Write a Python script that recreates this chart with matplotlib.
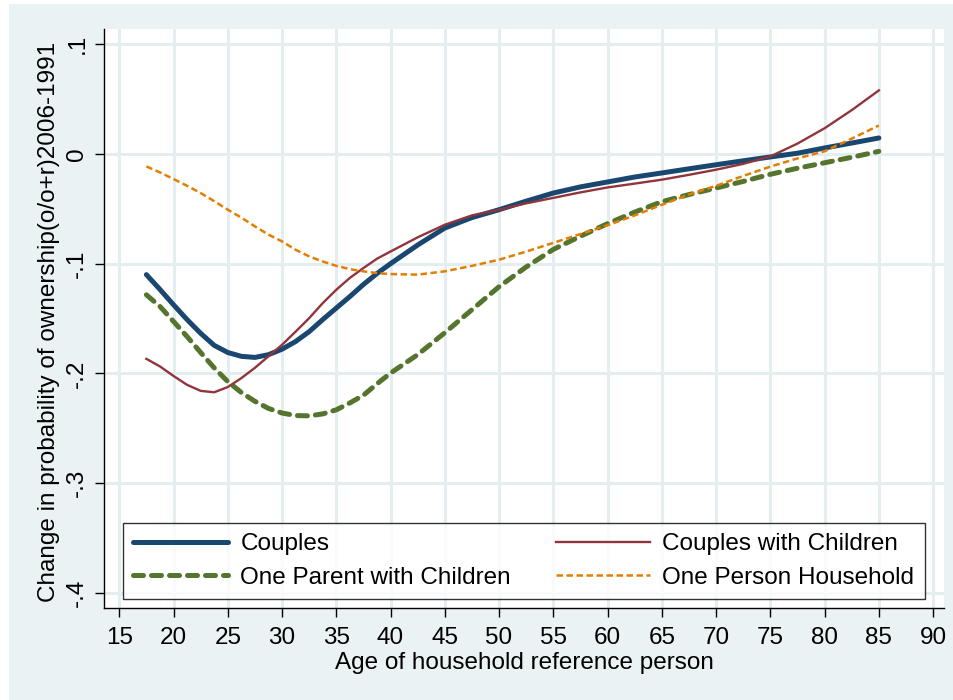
import matplotlib
matplotlib.use("Agg")
import matplotlib.pyplot as plt
from matplotlib.patches import Rectangle

plt.rcParams["font.family"] = ["Liberation Sans", "DejaVu Sans"]

age = [17.5, 18.75, 20, 21.25, 22.5, 23.75, 25, 26.25, 27.5, 28.75, 30,
       31.25, 32.5, 33.75, 35, 36.25, 37.5, 38.75, 40, 42.5, 45, 47.5, 50,
       52.5, 55, 57.5, 60, 62.5, 65, 67.5, 70, 72.5, 75, 77.5, 80, 82.5, 85]

couples = [-0.110, -0.1235, -0.1375, -0.151, -0.1635, -0.1745, -0.181,
           -0.1845, -0.1855, -0.183, -0.178, -0.171, -0.162, -0.151, -0.1405,
           -0.130, -0.119, -0.109, -0.100, -0.083, -0.0675, -0.058, -0.0508,
           -0.043, -0.0356, -0.030, -0.0255, -0.021, -0.0173, -0.0135,
           -0.0098, -0.0062, -0.0027, 0.0007, 0.0055, 0.010, 0.0146]

couples_children = [-0.1868, -0.1937, -0.2024, -0.2105, -0.216, -0.2173,
                    -0.2125, -0.2044, -0.195, -0.1845, -0.174, -0.162,
                    -0.1497, -0.136, -0.1238, -0.113, -0.104, -0.0955,
                    -0.0889, -0.076, -0.0645, -0.056, -0.0508, -0.045, -0.040,
                    -0.035, -0.0305, -0.027, -0.0234, -0.019, -0.0143, -0.009,
                    -0.0022, 0.0095, 0.0235, 0.040, 0.058]

one_parent = [-0.1284, -0.139, -0.1527, -0.1665, -0.181, -0.195, -0.2075,
              -0.2175, -0.2255, -0.232, -0.2362, -0.2385, -0.2388, -0.237,
              -0.2333, -0.227, -0.220, -0.2096, -0.1998, -0.183, -0.163,
              -0.142, -0.121, -0.103, -0.087, -0.075, -0.0635, -0.053,
              -0.0435, -0.037, -0.031, -0.025, -0.0185, -0.013, -0.008,
              -0.003, 0.0024]

one_person = [-0.0113, -0.0168, -0.0228, -0.029, -0.0356, -0.043, -0.0508,
              -0.058, -0.066, -0.0735, -0.0797, -0.0873, -0.0934, -0.098,
              -0.102, -0.105, -0.107, -0.1086, -0.1095, -0.110, -0.107,
              -0.102, -0.0964, -0.089, -0.081, -0.073, -0.065, -0.056,
              -0.0463, -0.037, -0.029, -0.020, -0.0115, -0.004, 0.0025,
              0.014, 0.026]

xticks = list(range(15, 95, 5))
yticks = [0.1, 0, -0.1, -0.2, -0.3, -0.4]
ytick_labels = [".1", "0", "-.1", "-.2", "-.3", "-.4"]

bg = "#EAF2F3"
gridc = "#E4EDEF"
navy = "#1A476F"
maroon = "#90353B"
green = "#55752F"
orange = "#E37E00"
fs = 17.5

fig = plt.figure(figsize=(9.54, 7.0), dpi=100, facecolor="white")
fig.add_artist(Rectangle((9 / 954, 0), 1 - 9 / 954, 1 - 4 / 700,
                         transform=fig.transFigure, facecolor=bg,
                         edgecolor="none", zorder=-10))

ax = fig.add_axes([0.1093, 0.1319, 0.8802, 0.8267])
ax.set_facecolor("white")

l1, = ax.plot(age, couples, color=navy, lw=3.6, solid_capstyle="round",
              solid_joinstyle="round", label="Couples", zorder=3)
l2, = ax.plot(age, couples_children, color=maroon, lw=1.7,
              label="Couples with Children", zorder=4)
l3, = ax.plot(age, one_parent, color=green, lw=3.6, dash_capstyle="round",
              dashes=(2.0, 1.6), label="One Parent with Children", zorder=2)
l4, = ax.plot(age, one_person, color=orange, lw=1.8, dashes=(2.6, 1.4),
              label="One Person Household", zorder=5)

ax.set_xlim(13.62, 91.0)
ax.set_ylim(-0.4137, 0.114)
ax.set_xticks(xticks)
ax.set_yticks(yticks)
ax.set_yticklabels(ytick_labels, rotation=90, va="center")

ax.grid(True, color=gridc, lw=2.2, zorder=0)
ax.set_axisbelow(True)
for s in ["top", "right"]:
    ax.spines[s].set_visible(False)
for s in ["left", "bottom"]:
    ax.spines[s].set_color("black")
    ax.spines[s].set_linewidth(1.0)

ax.tick_params(axis="both", direction="out", length=6.5, width=1.0,
               color="black", labelsize=fs, pad=5)
ax.tick_params(axis="x", pad=7.5)

ax.set_xlabel("Age of household reference person", fontsize=fs)
ax.set_ylabel("Change in probability of ownership(o/o+r)2006-1991",
              fontsize=fs)
ax.xaxis.set_label_coords(0.5, -0.077)
ax.yaxis.set_label_coords(-0.053, 0.494)

leg = ax.legend(handles=[l1, l3, l2, l4], ncol=2, loc="lower left",
                bbox_to_anchor=(0.0223, 0.015, 0.955, 0.135), mode="expand",
                borderaxespad=0, fontsize=fs, frameon=True, fancybox=False,
                handlelength=3.87, handletextpad=0.53, labelspacing=0.46,
                borderpad=0.43)
leg.get_frame().set_edgecolor("black")
leg.get_frame().set_linewidth(1.0)
leg.get_frame().set_facecolor("white")
leg.set_zorder(10)

fig.savefig("out.png", dpi=100, facecolor=fig.get_facecolor())
